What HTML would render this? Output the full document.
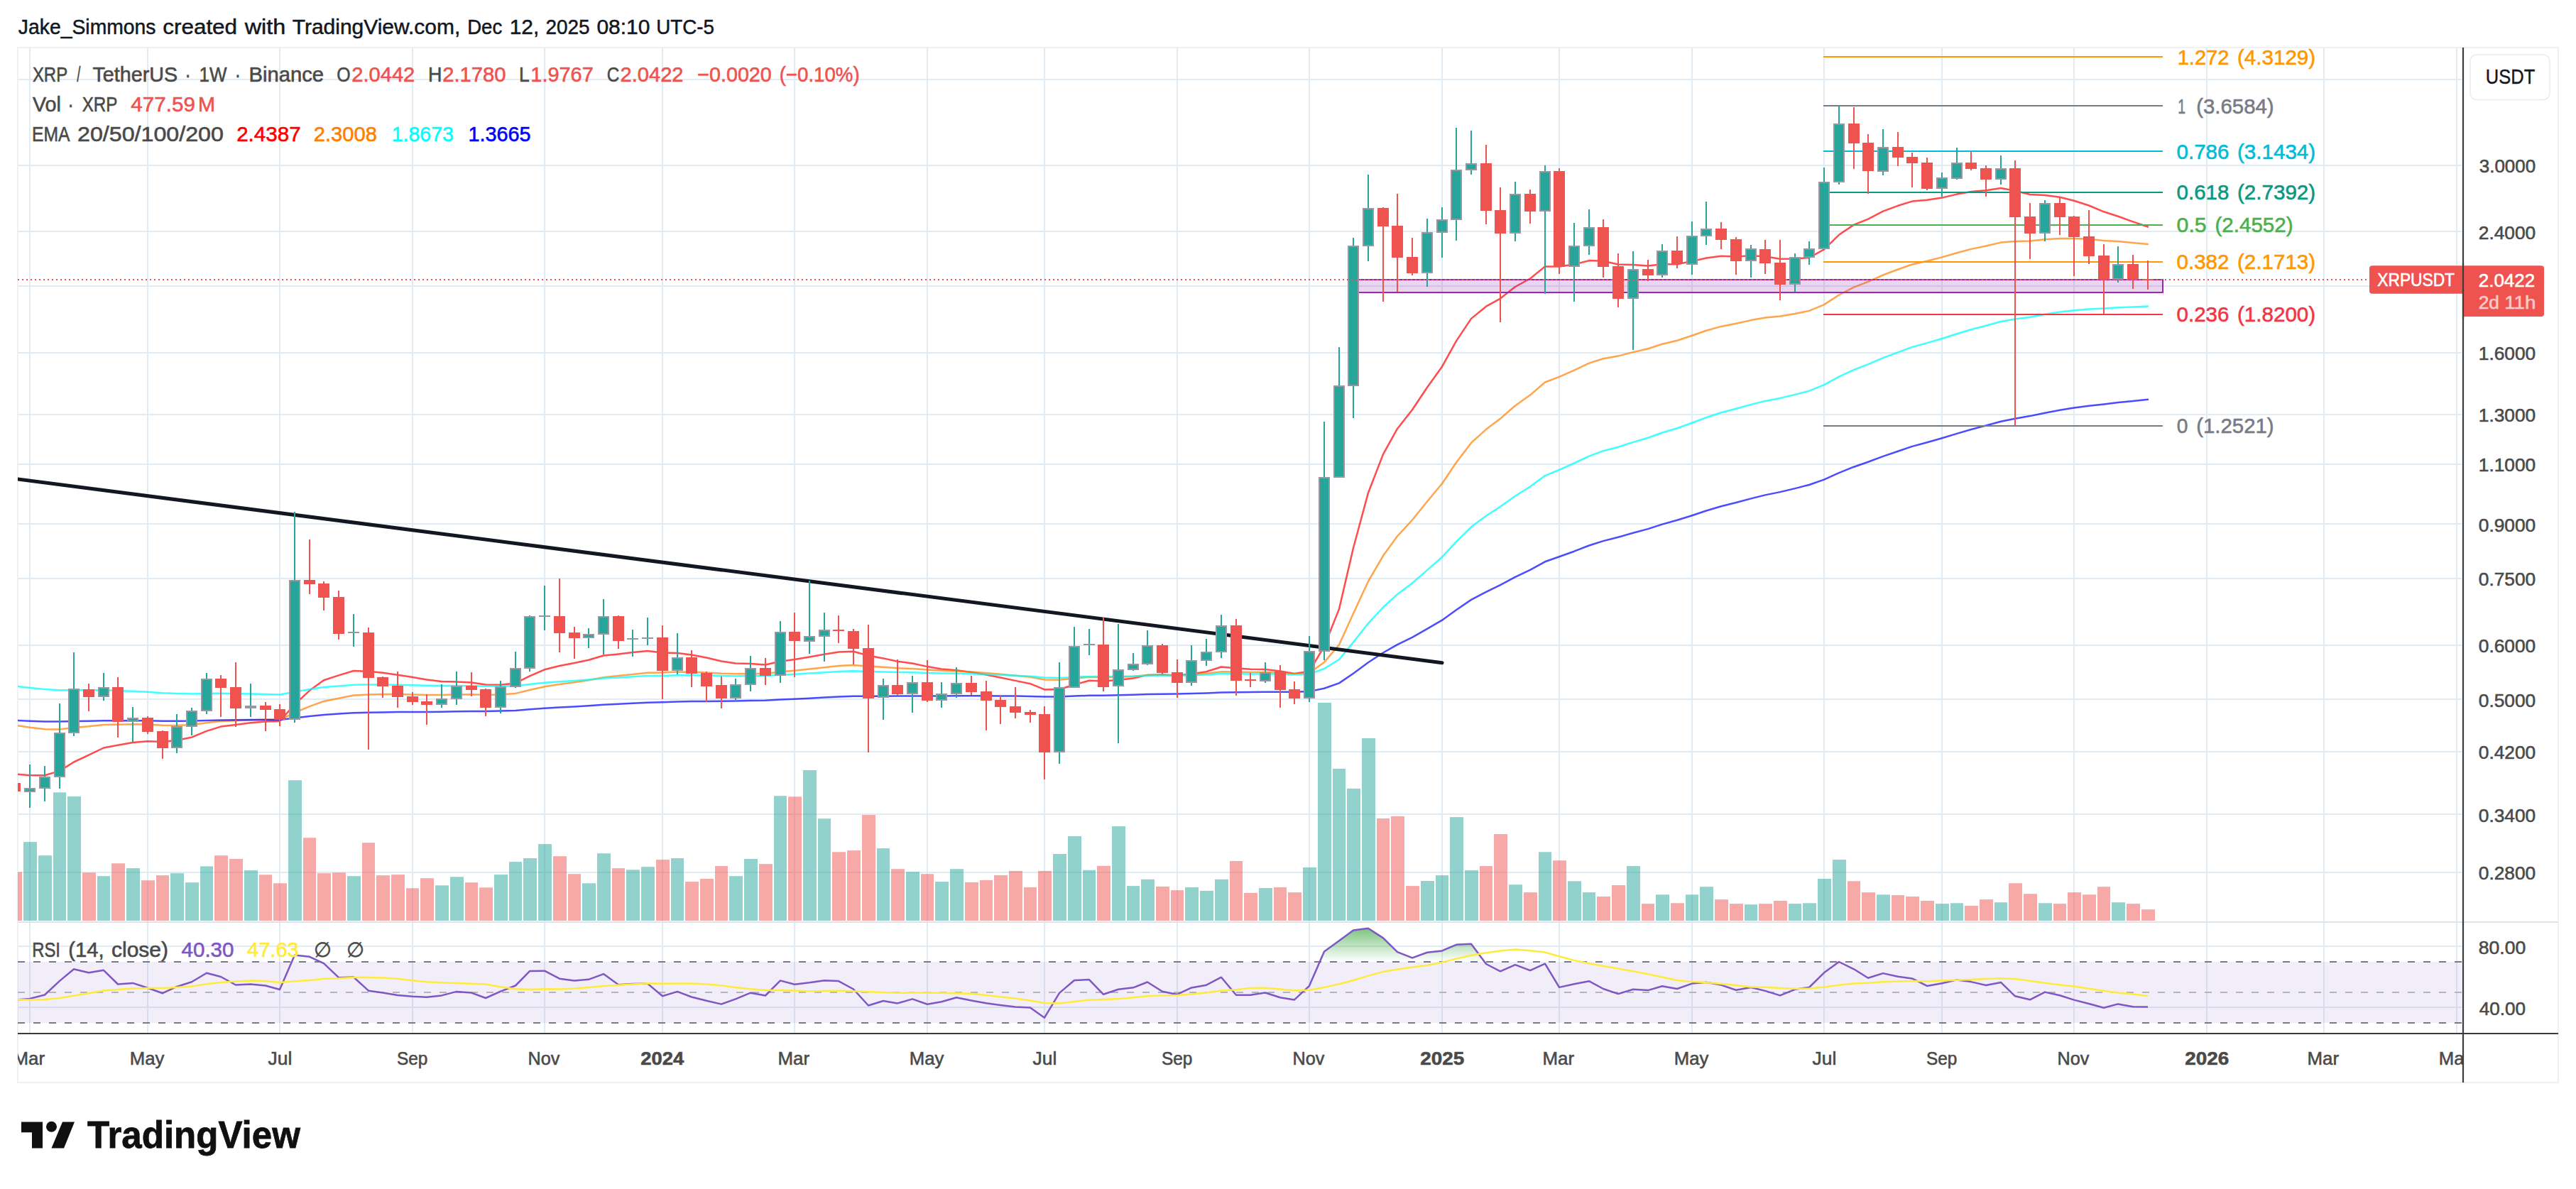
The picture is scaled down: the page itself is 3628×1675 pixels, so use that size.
<!DOCTYPE html>
<html><head><meta charset="utf-8"><title>XRPUSDT chart</title>
<style>html,body{margin:0;padding:0;background:#fff}body{width:3628px;height:1675px;overflow:hidden;font-family:"Liberation Sans",sans-serif}svg{display:block}</style></head>
<body>
<svg width="3628" height="1675" viewBox="0 0 3628 1675" font-family="Liberation Sans, sans-serif">
<rect width="3628" height="1675" fill="#fff"/>
<defs><clipPath id="cp"><rect x="25" y="67" width="3443" height="1389"/></clipPath>
<clipPath id="cpt"><rect x="25" y="1456" width="3443" height="80"/></clipPath>
<linearGradient id="ob" gradientUnits="userSpaceOnUse" x1="0" y1="1290.3" x2="0" y2="1354.8"><stop offset="0" stop-color="#4caf50" stop-opacity="1"/><stop offset="1" stop-color="#4caf50" stop-opacity="0"/></linearGradient></defs>
<rect x="25" y="67" width="3578" height="1458" fill="none" stroke="#f0f1f2" stroke-width="2"/>
<path d="M42 67 V1456 M208 67 V1456 M394 67 V1456 M581 67 V1456 M767 67 V1456 M933 67 V1456 M1119 67 V1456 M1306 67 V1456 M1471 67 V1456 M1658 67 V1456 M1844 67 V1456 M2031 67 V1456 M2196 67 V1456 M2383 67 V1456 M2569 67 V1456 M2735 67 V1456 M2921 67 V1456 M3108 67 V1456 M3273 67 V1456 M3460 67 V1456 M25 112 H3467 M25 233 H3467 M25 326 H3467 M25 403 H3467 M25 497 H3467 M25 584 H3467 M25 654 H3467 M25 738 H3467 M25 815 H3467 M25 909 H3467 M25 985 H3467 M25 1059 H3467 M25 1147 H3467 M25 1229 H3467 M25 1333 H3467 M25 1419 H3467" stroke="#e0ebf3" stroke-width="2" fill="none"/>
<path d="M25 1299 H3603" stroke="#e0e3eb" stroke-width="2"/>
<g clip-path="url(#cp)">
<rect x="25" y="1355" width="3442" height="86" fill="#7e57c2" fill-opacity="0.1"/>
<path d="M25 1355 H3467" stroke="#787b86" stroke-width="2" stroke-dasharray="10 12"/>
<path d="M25 1398 H3467" stroke="#b2b5be" stroke-width="2" stroke-dasharray="10 12"/>
<path d="M25 1441 H3467" stroke="#787b86" stroke-width="2" stroke-dasharray="10 12"/>
<rect x="12" y="1228.5" width="19" height="68.5" fill="#ef5350" fill-opacity="0.5"/>
<rect x="33" y="1186.1" width="19" height="110.9" fill="#26a69a" fill-opacity="0.5"/>
<rect x="54" y="1205.2" width="19" height="91.8" fill="#26a69a" fill-opacity="0.5"/>
<rect x="75" y="1116.3" width="18" height="180.7" fill="#26a69a" fill-opacity="0.5"/>
<rect x="95" y="1122" width="19" height="175" fill="#26a69a" fill-opacity="0.5"/>
<rect x="116" y="1229.3" width="19" height="67.7" fill="#ef5350" fill-opacity="0.5"/>
<rect x="137" y="1234.2" width="18" height="62.8" fill="#26a69a" fill-opacity="0.5"/>
<rect x="157" y="1216.3" width="19" height="80.7" fill="#ef5350" fill-opacity="0.5"/>
<rect x="178" y="1223.1" width="19" height="73.9" fill="#26a69a" fill-opacity="0.5"/>
<rect x="199" y="1240.2" width="19" height="56.8" fill="#ef5350" fill-opacity="0.5"/>
<rect x="220" y="1233.1" width="18" height="63.9" fill="#ef5350" fill-opacity="0.5"/>
<rect x="240" y="1230.2" width="19" height="66.8" fill="#26a69a" fill-opacity="0.5"/>
<rect x="261" y="1243.2" width="19" height="53.8" fill="#26a69a" fill-opacity="0.5"/>
<rect x="282" y="1220.4" width="18" height="76.6" fill="#26a69a" fill-opacity="0.5"/>
<rect x="302" y="1205.2" width="19" height="91.8" fill="#ef5350" fill-opacity="0.5"/>
<rect x="323" y="1210" width="19" height="87" fill="#ef5350" fill-opacity="0.5"/>
<rect x="344" y="1226.1" width="19" height="70.9" fill="#26a69a" fill-opacity="0.5"/>
<rect x="365" y="1232.3" width="18" height="64.7" fill="#ef5350" fill-opacity="0.5"/>
<rect x="385" y="1244.3" width="19" height="52.7" fill="#ef5350" fill-opacity="0.5"/>
<rect x="406" y="1099.2" width="19" height="197.8" fill="#26a69a" fill-opacity="0.5"/>
<rect x="427" y="1180.2" width="18" height="116.8" fill="#ef5350" fill-opacity="0.5"/>
<rect x="447" y="1230.2" width="19" height="66.8" fill="#ef5350" fill-opacity="0.5"/>
<rect x="468" y="1229.3" width="19" height="67.7" fill="#ef5350" fill-opacity="0.5"/>
<rect x="489" y="1234.2" width="19" height="62.8" fill="#26a69a" fill-opacity="0.5"/>
<rect x="510" y="1187.2" width="18" height="109.8" fill="#ef5350" fill-opacity="0.5"/>
<rect x="530" y="1233.1" width="19" height="63.9" fill="#ef5350" fill-opacity="0.5"/>
<rect x="551" y="1232.1" width="19" height="64.9" fill="#ef5350" fill-opacity="0.5"/>
<rect x="572" y="1251.3" width="18" height="45.7" fill="#ef5350" fill-opacity="0.5"/>
<rect x="592" y="1237.2" width="19" height="59.8" fill="#ef5350" fill-opacity="0.5"/>
<rect x="613" y="1247.3" width="19" height="49.7" fill="#26a69a" fill-opacity="0.5"/>
<rect x="634" y="1235.3" width="19" height="61.7" fill="#26a69a" fill-opacity="0.5"/>
<rect x="655" y="1243.2" width="18" height="53.8" fill="#ef5350" fill-opacity="0.5"/>
<rect x="675" y="1250.3" width="19" height="46.7" fill="#ef5350" fill-opacity="0.5"/>
<rect x="696" y="1232.1" width="19" height="64.9" fill="#26a69a" fill-opacity="0.5"/>
<rect x="717" y="1214.1" width="18" height="82.9" fill="#26a69a" fill-opacity="0.5"/>
<rect x="737" y="1209" width="19" height="88" fill="#26a69a" fill-opacity="0.5"/>
<rect x="758" y="1189.1" width="19" height="107.9" fill="#26a69a" fill-opacity="0.5"/>
<rect x="779" y="1206.2" width="19" height="90.8" fill="#ef5350" fill-opacity="0.5"/>
<rect x="800" y="1231.2" width="18" height="65.8" fill="#ef5350" fill-opacity="0.5"/>
<rect x="820" y="1244.3" width="19" height="52.7" fill="#26a69a" fill-opacity="0.5"/>
<rect x="841" y="1202.2" width="19" height="94.8" fill="#26a69a" fill-opacity="0.5"/>
<rect x="862" y="1223.1" width="18" height="73.9" fill="#ef5350" fill-opacity="0.5"/>
<rect x="882" y="1225.3" width="19" height="71.7" fill="#26a69a" fill-opacity="0.5"/>
<rect x="903" y="1221.2" width="19" height="75.8" fill="#26a69a" fill-opacity="0.5"/>
<rect x="924" y="1211.1" width="19" height="85.9" fill="#ef5350" fill-opacity="0.5"/>
<rect x="945" y="1209" width="18" height="88" fill="#26a69a" fill-opacity="0.5"/>
<rect x="965" y="1242.1" width="19" height="54.9" fill="#ef5350" fill-opacity="0.5"/>
<rect x="986" y="1238" width="19" height="59" fill="#ef5350" fill-opacity="0.5"/>
<rect x="1007" y="1220.1" width="18" height="76.9" fill="#ef5350" fill-opacity="0.5"/>
<rect x="1027" y="1234.2" width="19" height="62.8" fill="#26a69a" fill-opacity="0.5"/>
<rect x="1048" y="1210" width="19" height="87" fill="#26a69a" fill-opacity="0.5"/>
<rect x="1069" y="1217.1" width="19" height="79.9" fill="#ef5350" fill-opacity="0.5"/>
<rect x="1090" y="1121.2" width="18" height="175.8" fill="#26a69a" fill-opacity="0.5"/>
<rect x="1110" y="1122.3" width="19" height="174.7" fill="#ef5350" fill-opacity="0.5"/>
<rect x="1131" y="1085" width="19" height="212" fill="#26a69a" fill-opacity="0.5"/>
<rect x="1152" y="1153.2" width="18" height="143.8" fill="#26a69a" fill-opacity="0.5"/>
<rect x="1172" y="1200.3" width="19" height="96.7" fill="#ef5350" fill-opacity="0.5"/>
<rect x="1193" y="1198.1" width="19" height="98.9" fill="#ef5350" fill-opacity="0.5"/>
<rect x="1214" y="1148.1" width="19" height="148.9" fill="#ef5350" fill-opacity="0.5"/>
<rect x="1235" y="1195.1" width="18" height="101.9" fill="#26a69a" fill-opacity="0.5"/>
<rect x="1255" y="1224.2" width="19" height="72.8" fill="#ef5350" fill-opacity="0.5"/>
<rect x="1276" y="1228.2" width="19" height="68.8" fill="#26a69a" fill-opacity="0.5"/>
<rect x="1297" y="1231.2" width="18" height="65.8" fill="#ef5350" fill-opacity="0.5"/>
<rect x="1317" y="1242.1" width="19" height="54.9" fill="#26a69a" fill-opacity="0.5"/>
<rect x="1338" y="1224.2" width="19" height="72.8" fill="#26a69a" fill-opacity="0.5"/>
<rect x="1359" y="1242.9" width="19" height="54.1" fill="#ef5350" fill-opacity="0.5"/>
<rect x="1380" y="1239.9" width="18" height="57.1" fill="#ef5350" fill-opacity="0.5"/>
<rect x="1400" y="1232.9" width="19" height="64.1" fill="#ef5350" fill-opacity="0.5"/>
<rect x="1421" y="1226.9" width="19" height="70.1" fill="#ef5350" fill-opacity="0.5"/>
<rect x="1442" y="1250" width="18" height="47" fill="#ef5350" fill-opacity="0.5"/>
<rect x="1462" y="1226.9" width="19" height="70.1" fill="#ef5350" fill-opacity="0.5"/>
<rect x="1483" y="1203" width="19" height="94" fill="#26a69a" fill-opacity="0.5"/>
<rect x="1504" y="1178" width="19" height="119" fill="#26a69a" fill-opacity="0.5"/>
<rect x="1525" y="1225.8" width="18" height="71.2" fill="#26a69a" fill-opacity="0.5"/>
<rect x="1545" y="1219.8" width="19" height="77.2" fill="#ef5350" fill-opacity="0.5"/>
<rect x="1566" y="1164.1" width="19" height="132.9" fill="#26a69a" fill-opacity="0.5"/>
<rect x="1587" y="1248.1" width="18" height="48.9" fill="#26a69a" fill-opacity="0.5"/>
<rect x="1607" y="1238.8" width="19" height="58.2" fill="#26a69a" fill-opacity="0.5"/>
<rect x="1628" y="1248.9" width="19" height="48.1" fill="#ef5350" fill-opacity="0.5"/>
<rect x="1649" y="1254.1" width="18" height="42.9" fill="#ef5350" fill-opacity="0.5"/>
<rect x="1669" y="1250" width="19" height="47" fill="#26a69a" fill-opacity="0.5"/>
<rect x="1690" y="1254.9" width="19" height="42.1" fill="#26a69a" fill-opacity="0.5"/>
<rect x="1711" y="1238.8" width="19" height="58.2" fill="#26a69a" fill-opacity="0.5"/>
<rect x="1732" y="1213" width="18" height="84" fill="#ef5350" fill-opacity="0.5"/>
<rect x="1752" y="1257.9" width="19" height="39.1" fill="#ef5350" fill-opacity="0.5"/>
<rect x="1773" y="1251.1" width="19" height="45.9" fill="#26a69a" fill-opacity="0.5"/>
<rect x="1794" y="1250" width="18" height="47" fill="#ef5350" fill-opacity="0.5"/>
<rect x="1814" y="1257.1" width="19" height="39.9" fill="#ef5350" fill-opacity="0.5"/>
<rect x="1835" y="1222" width="19" height="75" fill="#26a69a" fill-opacity="0.5"/>
<rect x="1856" y="989.9" width="19" height="307.1" fill="#26a69a" fill-opacity="0.5"/>
<rect x="1877" y="1082.9" width="18" height="214.1" fill="#26a69a" fill-opacity="0.5"/>
<rect x="1897" y="1110.9" width="19" height="186.1" fill="#26a69a" fill-opacity="0.5"/>
<rect x="1918" y="1039.9" width="19" height="257.1" fill="#26a69a" fill-opacity="0.5"/>
<rect x="1939" y="1153" width="18" height="144" fill="#ef5350" fill-opacity="0.5"/>
<rect x="1959" y="1150" width="19" height="147" fill="#ef5350" fill-opacity="0.5"/>
<rect x="1980" y="1248.1" width="19" height="48.9" fill="#ef5350" fill-opacity="0.5"/>
<rect x="2001" y="1241" width="19" height="56" fill="#26a69a" fill-opacity="0.5"/>
<rect x="2022" y="1233.1" width="18" height="63.9" fill="#26a69a" fill-opacity="0.5"/>
<rect x="2042" y="1151.1" width="19" height="145.9" fill="#26a69a" fill-opacity="0.5"/>
<rect x="2063" y="1226.1" width="19" height="70.9" fill="#26a69a" fill-opacity="0.5"/>
<rect x="2084" y="1220.1" width="18" height="76.9" fill="#ef5350" fill-opacity="0.5"/>
<rect x="2104" y="1175" width="19" height="122" fill="#ef5350" fill-opacity="0.5"/>
<rect x="2125" y="1246.2" width="19" height="50.8" fill="#26a69a" fill-opacity="0.5"/>
<rect x="2146" y="1257.1" width="19" height="39.9" fill="#ef5350" fill-opacity="0.5"/>
<rect x="2167" y="1200.3" width="18" height="96.7" fill="#26a69a" fill-opacity="0.5"/>
<rect x="2187" y="1212.2" width="19" height="84.8" fill="#ef5350" fill-opacity="0.5"/>
<rect x="2208" y="1241.3" width="19" height="55.7" fill="#26a69a" fill-opacity="0.5"/>
<rect x="2229" y="1257.1" width="18" height="39.9" fill="#26a69a" fill-opacity="0.5"/>
<rect x="2249" y="1263" width="19" height="34" fill="#ef5350" fill-opacity="0.5"/>
<rect x="2270" y="1247" width="19" height="50" fill="#ef5350" fill-opacity="0.5"/>
<rect x="2291" y="1220.1" width="19" height="76.9" fill="#26a69a" fill-opacity="0.5"/>
<rect x="2312" y="1273.1" width="18" height="23.9" fill="#ef5350" fill-opacity="0.5"/>
<rect x="2332" y="1260.3" width="19" height="36.7" fill="#26a69a" fill-opacity="0.5"/>
<rect x="2353" y="1272.3" width="19" height="24.7" fill="#ef5350" fill-opacity="0.5"/>
<rect x="2374" y="1260.3" width="18" height="36.7" fill="#26a69a" fill-opacity="0.5"/>
<rect x="2394" y="1249.2" width="19" height="47.8" fill="#26a69a" fill-opacity="0.5"/>
<rect x="2415" y="1267.1" width="19" height="29.9" fill="#ef5350" fill-opacity="0.5"/>
<rect x="2436" y="1273.1" width="19" height="23.9" fill="#ef5350" fill-opacity="0.5"/>
<rect x="2457" y="1274.2" width="18" height="22.8" fill="#26a69a" fill-opacity="0.5"/>
<rect x="2477" y="1273.1" width="19" height="23.9" fill="#ef5350" fill-opacity="0.5"/>
<rect x="2498" y="1269" width="19" height="28" fill="#ef5350" fill-opacity="0.5"/>
<rect x="2519" y="1273.1" width="18" height="23.9" fill="#26a69a" fill-opacity="0.5"/>
<rect x="2539" y="1272.3" width="19" height="24.7" fill="#26a69a" fill-opacity="0.5"/>
<rect x="2560" y="1238" width="19" height="59" fill="#26a69a" fill-opacity="0.5"/>
<rect x="2581" y="1211.1" width="19" height="85.9" fill="#26a69a" fill-opacity="0.5"/>
<rect x="2602" y="1241.3" width="18" height="55.7" fill="#ef5350" fill-opacity="0.5"/>
<rect x="2622" y="1257.1" width="19" height="39.9" fill="#ef5350" fill-opacity="0.5"/>
<rect x="2643" y="1260.3" width="19" height="36.7" fill="#26a69a" fill-opacity="0.5"/>
<rect x="2664" y="1261.1" width="18" height="35.9" fill="#ef5350" fill-opacity="0.5"/>
<rect x="2684" y="1263" width="19" height="34" fill="#ef5350" fill-opacity="0.5"/>
<rect x="2705" y="1269" width="19" height="28" fill="#ef5350" fill-opacity="0.5"/>
<rect x="2726" y="1273.1" width="19" height="23.9" fill="#26a69a" fill-opacity="0.5"/>
<rect x="2747" y="1272.3" width="18" height="24.7" fill="#26a69a" fill-opacity="0.5"/>
<rect x="2767" y="1276.1" width="19" height="20.9" fill="#ef5350" fill-opacity="0.5"/>
<rect x="2788" y="1267.1" width="19" height="29.9" fill="#ef5350" fill-opacity="0.5"/>
<rect x="2809" y="1271.2" width="18" height="25.8" fill="#26a69a" fill-opacity="0.5"/>
<rect x="2829" y="1244.3" width="19" height="52.7" fill="#ef5350" fill-opacity="0.5"/>
<rect x="2850" y="1259.2" width="19" height="37.8" fill="#ef5350" fill-opacity="0.5"/>
<rect x="2871" y="1272.3" width="19" height="24.7" fill="#26a69a" fill-opacity="0.5"/>
<rect x="2892" y="1273.1" width="18" height="23.9" fill="#ef5350" fill-opacity="0.5"/>
<rect x="2912" y="1257.1" width="19" height="39.9" fill="#ef5350" fill-opacity="0.5"/>
<rect x="2933" y="1260.3" width="19" height="36.7" fill="#ef5350" fill-opacity="0.5"/>
<rect x="2954" y="1249.2" width="18" height="47.8" fill="#ef5350" fill-opacity="0.5"/>
<rect x="2974" y="1271.2" width="19" height="25.8" fill="#26a69a" fill-opacity="0.5"/>
<rect x="2995" y="1273.1" width="19" height="23.9" fill="#ef5350" fill-opacity="0.5"/>
<rect x="3016" y="1281.2" width="19" height="15.8" fill="#ef5350" fill-opacity="0.5"/>
<polyline points="21,1090.4 42,1092.2 63,1092.3 84,1086.1 104,1073.5 125,1063.7 146,1053.5 166,1049.8 187,1045.9 208,1044.3 229,1045.1 249,1042.9 270,1038.6 291,1029.9 311,1023.6 332,1021 353,1018.3 374,1016.4 394,1016 415,992.4 436,972.8 456,958.3 477,951.4 498,945 519,945.8 539,947.7 560,950.7 581,954.1 601,957.5 622,959.9 643,960.5 664,961.4 684,964.6 705,964.8 726,962.4 746,952.3 767,943.3 788,938 809,934 829,929.8 850,923.5 871,921.4 891,919.1 912,916.9 933,919.4 954,920 974,922.6 995,926.5 1016,931.5 1036,934.5 1057,935 1078,936.5 1099,931.8 1119,928.9 1140,925.6 1161,921.7 1181,918.4 1202,917.8 1223,923.6 1244,927.4 1264,931.8 1285,934.5 1306,939.1 1326,942.6 1347,944.3 1368,947 1389,950.6 1409,954.6 1430,958.9 1451,963.2 1471,971.4 1492,971 1513,964.7 1534,958.8 1554,959.6 1575,957.9 1596,955.6 1616,950.9 1637,950.5 1658,951.5 1678,949.4 1699,946.2 1720,939.5 1741,941.2 1761,942.7 1782,943.1 1803,945.6 1823,949.1 1844,945.8 1865,910.5 1886,857.9 1906,771.9 1927,694.2 1948,639.9 1968,603.9 1989,577.2 2010,545.7 2031,516.4 2051,480.4 2072,448.9 2093,431.7 2113,420.6 2134,404 2155,392.5 2176,375.4 2196,375.4 2217,372.5 2238,367.1 2258,367.8 2279,372.5 2300,373.1 2321,374.4 2341,372.3 2362,372.2 2383,368.1 2403,363.5 2424,360.8 2445,361.4 2466,360.3 2486,361.2 2507,364.7 2528,364.4 2548,363 2569,351.4 2590,330.8 2611,316.6 2631,308.6 2652,297.7 2673,289.8 2693,283.6 2714,281.8 2735,278.6 2756,273.6 2776,270 2797,268.2 2818,265.1 2838,268.7 2859,274 2880,275.1 2901,277.8 2921,282.7 2942,289.5 2963,298.3 2983,304.8 3004,312.4 3025,319.5" fill="none" stroke="#ff0000" stroke-opacity="0.7" stroke-width="2.5" stroke-linejoin="round" stroke-linecap="round"/>
<polyline points="21,1021.7 42,1024.8 63,1027.3 84,1027.5 104,1025 125,1023.2 146,1020.9 166,1020.7 187,1020.3 208,1020.6 229,1021.8 249,1021.9 270,1021 291,1018.2 311,1016.1 332,1015.3 353,1014.5 374,1013.8 394,1013.8 415,1004 436,995.2 456,987.9 477,983.7 498,979.5 519,978.5 539,978 560,978.1 581,978.4 601,979 622,979.1 643,978.6 664,978.3 684,978.9 705,978.4 726,976.9 746,972 767,967.3 788,964 809,961.2 829,958.3 850,954.3 871,952.1 891,949.9 912,947.7 933,947.5 954,946.6 974,946.7 995,947.4 1016,948.7 1036,949.3 1057,948.9 1078,949 1099,946.5 1119,944.7 1140,942.6 1161,940.3 1181,938.1 1202,937.1 1223,938.8 1244,939.8 1264,941.2 1285,941.9 1306,943.6 1326,944.8 1347,945.5 1368,946.5 1389,948 1409,949.7 1430,951.7 1451,953.7 1471,957.4 1492,957.8 1513,955.7 1534,953.7 1554,954.2 1575,953.7 1596,952.9 1616,951.1 1637,951 1658,951.3 1678,950.5 1699,949.1 1720,946.2 1741,946.6 1761,947.1 1782,947.1 1803,948 1823,949.3 1844,947.9 1865,932.9 1886,908.3 1906,864.3 1927,819 1948,782.8 1968,755.3 1989,732.5 2010,706.5 2031,681.2 2051,651.5 2072,623.9 2093,604.8 2113,589.7 2134,571.5 2155,556.6 2176,538.5 2196,530.8 2217,521.7 2238,511.6 2258,505.3 2279,501.6 2300,496.1 2321,491.2 2341,484.8 2362,479.7 2383,472.8 2403,465.7 2424,459.9 2445,455.8 2466,451.1 2486,447.6 2507,445.6 2528,442 2548,437.9 2569,429.1 2590,415.5 2611,404.6 2631,396.8 2652,387.5 2673,379.5 2693,372.5 2714,367.7 2735,362.4 2756,356.2 2776,350.9 2797,346.5 2818,341.6 2838,340.1 2859,339.6 2880,337.3 2901,336 2921,335.9 2942,336.8 2963,338.9 2983,340.1 3004,342.1 3025,344" fill="none" stroke="#ff8000" stroke-opacity="0.7" stroke-width="2.5" stroke-linejoin="round" stroke-linecap="round"/>
<polyline points="21,966.5 42,968.9 63,971 84,972.2 104,972.1 125,972.3 146,972.2 166,973 187,973.7 208,974.7 229,976.2 249,977 270,977.5 291,977 311,976.8 332,977.2 353,977.5 374,977.9 394,978.6 415,974.7 436,971.1 456,968.1 477,966.4 498,964.7 519,964.5 539,964.5 560,964.8 581,965.3 601,965.8 622,966.1 643,966.1 664,966.2 684,966.8 705,966.7 726,966.2 746,964 767,961.8 788,960.3 809,959 829,957.5 850,955.5 871,954.4 891,953.2 912,952 933,951.9 954,951.3 974,951.3 995,951.5 1016,952.1 1036,952.4 1057,952.1 1078,952.1 1099,950.8 1119,949.7 1140,948.6 1161,947.3 1181,946 1202,945.3 1223,946 1244,946.4 1264,947 1285,947.3 1306,948 1326,948.5 1347,948.8 1368,949.3 1389,950 1409,950.8 1430,951.8 1451,952.8 1471,954.6 1492,954.9 1513,953.9 1534,952.9 1554,953.2 1575,953 1596,952.6 1616,951.7 1637,951.6 1658,951.8 1678,951.3 1699,950.6 1720,949.1 1741,949.3 1761,949.4 1782,949.4 1803,949.8 1823,950.4 1844,949.7 1865,942 1886,929 1906,904.7 1927,878.1 1948,855.5 1968,837.2 1989,821.4 2010,803.1 2031,784.8 2051,763.1 2072,742.3 2093,726.8 2113,713.8 2134,698.7 2155,685.5 2176,670.1 2196,661.8 2217,652.5 2238,642.6 2258,635.2 2279,629.7 2300,622.9 2321,616.7 2341,609.5 2362,603.2 2383,595.7 2403,588.1 2424,581.3 2445,575.8 2466,569.9 2486,564.9 2507,560.9 2528,555.9 2548,550.6 2569,542.2 2590,530.7 2611,520.9 2631,513.1 2652,504.2 2673,496.3 2693,488.9 2714,483.1 2735,477 2756,470.3 2776,464.2 2797,458.7 2818,453 2838,449.5 2859,446.7 2880,442.8 2901,439.6 2921,437.2 2942,435.5 2963,434.6 2983,433.3 3004,432.4 3025,431.6" fill="none" stroke="#00ffff" stroke-opacity="0.75" stroke-width="2.5" stroke-linejoin="round" stroke-linecap="round"/>
<polyline points="21,1014.9 42,1015.7 63,1016.4 84,1016.6 104,1016.1 125,1015.7 146,1015.2 166,1015.2 187,1015.2 208,1015.3 229,1015.7 249,1015.7 270,1015.6 291,1014.9 311,1014.4 332,1014.3 353,1014.1 374,1013.9 394,1013.9 415,1011.4 436,1009 456,1007 477,1005.6 498,1004.3 519,1003.8 539,1003.4 560,1003.1 581,1003 601,1002.9 622,1002.7 643,1002.3 664,1001.9 684,1001.9 705,1001.5 726,1000.9 746,999.3 767,997.7 788,996.5 809,995.4 829,994.3 850,992.8 871,991.8 891,990.7 912,989.7 933,989.2 954,988.5 974,988.1 995,987.9 1016,987.8 1036,987.6 1057,987.1 1078,986.7 1099,985.6 1119,984.7 1140,983.7 1161,982.6 1181,981.6 1202,980.8 1223,980.8 1244,980.7 1264,980.6 1285,980.4 1306,980.5 1326,980.5 1347,980.3 1368,980.2 1389,980.3 1409,980.4 1430,980.6 1451,980.9 1471,981.6 1492,981.4 1513,980.6 1534,979.8 1554,979.7 1575,979.3 1596,978.8 1616,978.1 1637,977.8 1658,977.6 1678,977.1 1699,976.4 1720,975.4 1741,975.2 1761,975 1782,974.7 1803,974.7 1823,974.8 1844,974.1 1865,969.7 1886,962.4 1906,948.7 1927,933.2 1948,919.5 1968,908.1 1989,897.8 2010,885.9 2031,873.7 2051,859.2 2072,844.9 2093,833.8 2113,824.1 2134,812.9 2155,802.9 2176,791.3 2196,784.3 2217,776.7 2238,768.5 2258,762.1 2279,756.8 2300,750.8 2321,745.1 2341,738.6 2362,732.8 2383,726.2 2403,719.5 2424,713.3 2445,708 2466,702.4 2486,697.4 2507,693.1 2528,688.1 2548,683 2569,675.6 2590,666.1 2611,657.7 2631,650.7 2652,642.9 2673,635.7 2693,628.9 2714,623.2 2735,617.3 2756,610.9 2776,605 2797,599.5 2818,593.8 2838,589.7 2859,586.1 2880,581.7 2901,577.8 2921,574.5 2942,571.8 2963,569.6 2983,567.1 3004,564.9 3025,562.8" fill="none" stroke="#0000ff" stroke-opacity="0.7" stroke-width="2.5" stroke-linejoin="round" stroke-linecap="round"/>
<rect x="1906" y="394" width="1140" height="18" fill="#9c27b0" fill-opacity="0.2" stroke="#9c27b0" stroke-width="2"/>
<path d="M2568 80 H3046" stroke="#ff9800" stroke-width="2"/>
<path d="M2568 149 H3046" stroke="#787b86" stroke-width="2"/>
<path d="M2568 213 H3046" stroke="#00bcd4" stroke-width="2"/>
<path d="M2568 271 H3046" stroke="#089981" stroke-width="2"/>
<path d="M2568 317 H3046" stroke="#4caf50" stroke-width="2"/>
<path d="M2568 369 H3046" stroke="#ff9800" stroke-width="2"/>
<path d="M2568 443 H3046" stroke="#f23645" stroke-width="2"/>
<path d="M2568 600 H3046" stroke="#787b86" stroke-width="2"/>
<path d="M25 675.1 L2031 933.7" stroke="#131722" stroke-width="5" stroke-linecap="round"/>
<rect x="20" y="1103" width="2" height="12" fill="#ef5350"/>
<rect x="13" y="1103" width="16" height="12" fill="#ef5350"/>
<rect x="41" y="1077" width="2" height="61" fill="#26a69a"/>
<rect x="35" y="1111" width="14" height="4" fill="#26a69a" stroke="#9598a1" stroke-width="2"/>
<rect x="62" y="1079" width="2" height="50" fill="#26a69a"/>
<rect x="56" y="1095" width="14" height="15" fill="#26a69a" stroke="#9598a1" stroke-width="2"/>
<rect x="83" y="991" width="2" height="120" fill="#26a69a"/>
<rect x="77" y="1033" width="14" height="61" fill="#26a69a" stroke="#9598a1" stroke-width="2"/>
<rect x="103" y="919" width="2" height="118" fill="#26a69a"/>
<rect x="97" y="971" width="14" height="61" fill="#26a69a" stroke="#9598a1" stroke-width="2"/>
<rect x="124" y="963" width="2" height="39" fill="#ef5350"/>
<rect x="117" y="971" width="16" height="11" fill="#ef5350"/>
<rect x="145" y="948" width="2" height="39" fill="#26a69a"/>
<rect x="139" y="969" width="14" height="12" fill="#26a69a" stroke="#9598a1" stroke-width="2"/>
<rect x="165" y="954" width="2" height="85" fill="#ef5350"/>
<rect x="158" y="968" width="16" height="49" fill="#ef5350"/>
<rect x="186" y="996" width="2" height="50" fill="#26a69a"/>
<rect x="180" y="1012" width="14" height="4" fill="#26a69a" stroke="#9598a1" stroke-width="2"/>
<rect x="207" y="1009" width="2" height="25" fill="#ef5350"/>
<rect x="200" y="1011" width="16" height="20" fill="#ef5350"/>
<rect x="228" y="1029" width="2" height="40" fill="#ef5350"/>
<rect x="221" y="1030" width="16" height="24" fill="#ef5350"/>
<rect x="248" y="1006" width="2" height="55" fill="#26a69a"/>
<rect x="242" y="1024" width="14" height="29" fill="#26a69a" stroke="#9598a1" stroke-width="2"/>
<rect x="269" y="997" width="2" height="39" fill="#26a69a"/>
<rect x="263" y="1002" width="14" height="21" fill="#26a69a" stroke="#9598a1" stroke-width="2"/>
<rect x="290" y="948" width="2" height="58" fill="#26a69a"/>
<rect x="284" y="957" width="14" height="44" fill="#26a69a" stroke="#9598a1" stroke-width="2"/>
<rect x="310" y="951" width="2" height="59" fill="#ef5350"/>
<rect x="303" y="956" width="16" height="13" fill="#ef5350"/>
<rect x="331" y="933" width="2" height="91" fill="#ef5350"/>
<rect x="324" y="968" width="16" height="30" fill="#ef5350"/>
<rect x="352" y="963" width="2" height="47" fill="#26a69a"/>
<rect x="346" y="995" width="14" height="2" fill="#26a69a" stroke="#9598a1" stroke-width="2"/>
<rect x="373" y="989" width="2" height="41" fill="#ef5350"/>
<rect x="366" y="994" width="16" height="6" fill="#ef5350"/>
<rect x="393" y="992" width="2" height="31" fill="#ef5350"/>
<rect x="386" y="999" width="16" height="15" fill="#ef5350"/>
<rect x="414" y="721" width="2" height="297" fill="#26a69a"/>
<rect x="408" y="818" width="14" height="195" fill="#26a69a" stroke="#9598a1" stroke-width="2"/>
<rect x="435" y="760" width="2" height="77" fill="#ef5350"/>
<rect x="428" y="817" width="16" height="6" fill="#ef5350"/>
<rect x="455" y="819" width="2" height="41" fill="#ef5350"/>
<rect x="448" y="822" width="16" height="20" fill="#ef5350"/>
<rect x="476" y="832" width="2" height="69" fill="#ef5350"/>
<rect x="469" y="841" width="16" height="52" fill="#ef5350"/>
<rect x="497" y="865" width="2" height="46" fill="#26a69a"/>
<rect x="490" y="890" width="16" height="2" fill="#9598a1"/>
<rect x="518" y="884" width="2" height="172" fill="#ef5350"/>
<rect x="511" y="891" width="16" height="64" fill="#ef5350"/>
<rect x="538" y="953" width="2" height="30" fill="#ef5350"/>
<rect x="531" y="954" width="16" height="13" fill="#ef5350"/>
<rect x="559" y="946" width="2" height="51" fill="#ef5350"/>
<rect x="552" y="966" width="16" height="16" fill="#ef5350"/>
<rect x="580" y="975" width="2" height="18" fill="#ef5350"/>
<rect x="573" y="981" width="16" height="8" fill="#ef5350"/>
<rect x="600" y="978" width="2" height="43" fill="#ef5350"/>
<rect x="593" y="988" width="16" height="5" fill="#ef5350"/>
<rect x="621" y="964" width="2" height="33" fill="#26a69a"/>
<rect x="615" y="985" width="14" height="7" fill="#26a69a" stroke="#9598a1" stroke-width="2"/>
<rect x="642" y="946" width="2" height="47" fill="#26a69a"/>
<rect x="636" y="967" width="14" height="17" fill="#26a69a" stroke="#9598a1" stroke-width="2"/>
<rect x="663" y="947" width="2" height="34" fill="#ef5350"/>
<rect x="656" y="966" width="16" height="6" fill="#ef5350"/>
<rect x="683" y="970" width="2" height="39" fill="#ef5350"/>
<rect x="676" y="971" width="16" height="26" fill="#ef5350"/>
<rect x="704" y="959" width="2" height="46" fill="#26a69a"/>
<rect x="698" y="968" width="14" height="28" fill="#26a69a" stroke="#9598a1" stroke-width="2"/>
<rect x="725" y="918" width="2" height="51" fill="#26a69a"/>
<rect x="719" y="942" width="14" height="25" fill="#26a69a" stroke="#9598a1" stroke-width="2"/>
<rect x="745" y="867" width="2" height="79" fill="#26a69a"/>
<rect x="739" y="869" width="14" height="72" fill="#26a69a" stroke="#9598a1" stroke-width="2"/>
<rect x="766" y="825" width="2" height="63" fill="#26a69a"/>
<rect x="759" y="867" width="16" height="2" fill="#9598a1"/>
<rect x="787" y="815" width="2" height="104" fill="#ef5350"/>
<rect x="780" y="868" width="16" height="24" fill="#ef5350"/>
<rect x="808" y="883" width="2" height="45" fill="#ef5350"/>
<rect x="801" y="891" width="16" height="8" fill="#ef5350"/>
<rect x="828" y="885" width="2" height="28" fill="#26a69a"/>
<rect x="822" y="894" width="14" height="4" fill="#26a69a" stroke="#9598a1" stroke-width="2"/>
<rect x="849" y="844" width="2" height="78" fill="#26a69a"/>
<rect x="843" y="869" width="14" height="24" fill="#26a69a" stroke="#9598a1" stroke-width="2"/>
<rect x="870" y="867" width="2" height="47" fill="#ef5350"/>
<rect x="863" y="868" width="16" height="35" fill="#ef5350"/>
<rect x="890" y="887" width="2" height="38" fill="#26a69a"/>
<rect x="883" y="899" width="16" height="2" fill="#9598a1"/>
<rect x="911" y="870" width="2" height="39" fill="#26a69a"/>
<rect x="904" y="898" width="16" height="2" fill="#9598a1"/>
<rect x="932" y="881" width="2" height="104" fill="#ef5350"/>
<rect x="925" y="898" width="16" height="47" fill="#ef5350"/>
<rect x="953" y="892" width="2" height="58" fill="#26a69a"/>
<rect x="947" y="927" width="14" height="17" fill="#26a69a" stroke="#9598a1" stroke-width="2"/>
<rect x="973" y="916" width="2" height="52" fill="#ef5350"/>
<rect x="966" y="926" width="16" height="23" fill="#ef5350"/>
<rect x="994" y="946" width="2" height="43" fill="#ef5350"/>
<rect x="987" y="948" width="16" height="19" fill="#ef5350"/>
<rect x="1015" y="953" width="2" height="45" fill="#ef5350"/>
<rect x="1008" y="965" width="16" height="19" fill="#ef5350"/>
<rect x="1035" y="956" width="2" height="32" fill="#26a69a"/>
<rect x="1029" y="965" width="14" height="18" fill="#26a69a" stroke="#9598a1" stroke-width="2"/>
<rect x="1056" y="924" width="2" height="50" fill="#26a69a"/>
<rect x="1050" y="942" width="14" height="22" fill="#26a69a" stroke="#9598a1" stroke-width="2"/>
<rect x="1077" y="927" width="2" height="38" fill="#ef5350"/>
<rect x="1070" y="941" width="16" height="11" fill="#ef5350"/>
<rect x="1098" y="875" width="2" height="87" fill="#26a69a"/>
<rect x="1092" y="891" width="14" height="60" fill="#26a69a" stroke="#9598a1" stroke-width="2"/>
<rect x="1118" y="863" width="2" height="91" fill="#ef5350"/>
<rect x="1111" y="890" width="16" height="13" fill="#ef5350"/>
<rect x="1139" y="818" width="2" height="103" fill="#26a69a"/>
<rect x="1133" y="897" width="14" height="6" fill="#26a69a" stroke="#9598a1" stroke-width="2"/>
<rect x="1160" y="863" width="2" height="69" fill="#26a69a"/>
<rect x="1154" y="888" width="14" height="8" fill="#26a69a" stroke="#9598a1" stroke-width="2"/>
<rect x="1180" y="867" width="2" height="39" fill="#ef5350"/>
<rect x="1173" y="887" width="16" height="2" fill="#ef5350"/>
<rect x="1201" y="886" width="2" height="50" fill="#ef5350"/>
<rect x="1194" y="889" width="16" height="25" fill="#ef5350"/>
<rect x="1222" y="880" width="2" height="180" fill="#ef5350"/>
<rect x="1215" y="913" width="16" height="71" fill="#ef5350"/>
<rect x="1243" y="956" width="2" height="58" fill="#26a69a"/>
<rect x="1237" y="966" width="14" height="16" fill="#26a69a" stroke="#9598a1" stroke-width="2"/>
<rect x="1263" y="929" width="2" height="50" fill="#ef5350"/>
<rect x="1256" y="965" width="16" height="13" fill="#ef5350"/>
<rect x="1284" y="952" width="2" height="52" fill="#26a69a"/>
<rect x="1278" y="962" width="14" height="15" fill="#26a69a" stroke="#9598a1" stroke-width="2"/>
<rect x="1305" y="930" width="2" height="59" fill="#ef5350"/>
<rect x="1298" y="961" width="16" height="26" fill="#ef5350"/>
<rect x="1325" y="961" width="2" height="36" fill="#26a69a"/>
<rect x="1319" y="978" width="14" height="8" fill="#26a69a" stroke="#9598a1" stroke-width="2"/>
<rect x="1346" y="940" width="2" height="43" fill="#26a69a"/>
<rect x="1340" y="963" width="14" height="14" fill="#26a69a" stroke="#9598a1" stroke-width="2"/>
<rect x="1367" y="952" width="2" height="27" fill="#ef5350"/>
<rect x="1360" y="962" width="16" height="13" fill="#ef5350"/>
<rect x="1388" y="959" width="2" height="70" fill="#ef5350"/>
<rect x="1381" y="974" width="16" height="13" fill="#ef5350"/>
<rect x="1408" y="980" width="2" height="40" fill="#ef5350"/>
<rect x="1401" y="986" width="16" height="10" fill="#ef5350"/>
<rect x="1429" y="968" width="2" height="44" fill="#ef5350"/>
<rect x="1422" y="995" width="16" height="9" fill="#ef5350"/>
<rect x="1450" y="1000" width="2" height="18" fill="#ef5350"/>
<rect x="1443" y="1003" width="16" height="4" fill="#ef5350"/>
<rect x="1470" y="995" width="2" height="103" fill="#ef5350"/>
<rect x="1463" y="1006" width="16" height="54" fill="#ef5350"/>
<rect x="1491" y="933" width="2" height="143" fill="#26a69a"/>
<rect x="1485" y="969" width="14" height="90" fill="#26a69a" stroke="#9598a1" stroke-width="2"/>
<rect x="1512" y="883" width="2" height="86" fill="#26a69a"/>
<rect x="1506" y="911" width="14" height="57" fill="#26a69a" stroke="#9598a1" stroke-width="2"/>
<rect x="1533" y="886" width="2" height="37" fill="#26a69a"/>
<rect x="1526" y="907" width="16" height="2" fill="#9598a1"/>
<rect x="1553" y="870" width="2" height="104" fill="#ef5350"/>
<rect x="1546" y="908" width="16" height="60" fill="#ef5350"/>
<rect x="1574" y="879" width="2" height="168" fill="#26a69a"/>
<rect x="1568" y="944" width="14" height="22" fill="#26a69a" stroke="#9598a1" stroke-width="2"/>
<rect x="1595" y="920" width="2" height="25" fill="#26a69a"/>
<rect x="1589" y="936" width="14" height="7" fill="#26a69a" stroke="#9598a1" stroke-width="2"/>
<rect x="1615" y="888" width="2" height="49" fill="#26a69a"/>
<rect x="1609" y="910" width="14" height="25" fill="#26a69a" stroke="#9598a1" stroke-width="2"/>
<rect x="1636" y="907" width="2" height="43" fill="#ef5350"/>
<rect x="1629" y="909" width="16" height="39" fill="#ef5350"/>
<rect x="1657" y="929" width="2" height="54" fill="#ef5350"/>
<rect x="1650" y="947" width="16" height="15" fill="#ef5350"/>
<rect x="1677" y="909" width="2" height="57" fill="#26a69a"/>
<rect x="1671" y="931" width="14" height="30" fill="#26a69a" stroke="#9598a1" stroke-width="2"/>
<rect x="1698" y="900" width="2" height="38" fill="#26a69a"/>
<rect x="1692" y="919" width="14" height="11" fill="#26a69a" stroke="#9598a1" stroke-width="2"/>
<rect x="1719" y="866" width="2" height="61" fill="#26a69a"/>
<rect x="1713" y="882" width="14" height="36" fill="#26a69a" stroke="#9598a1" stroke-width="2"/>
<rect x="1740" y="872" width="2" height="108" fill="#ef5350"/>
<rect x="1733" y="881" width="16" height="78" fill="#ef5350"/>
<rect x="1760" y="948" width="2" height="20" fill="#ef5350"/>
<rect x="1753" y="957" width="16" height="2" fill="#ef5350"/>
<rect x="1781" y="933" width="2" height="29" fill="#26a69a"/>
<rect x="1775" y="948" width="14" height="11" fill="#26a69a" stroke="#9598a1" stroke-width="2"/>
<rect x="1802" y="937" width="2" height="60" fill="#ef5350"/>
<rect x="1795" y="946" width="16" height="26" fill="#ef5350"/>
<rect x="1822" y="960" width="2" height="32" fill="#ef5350"/>
<rect x="1815" y="971" width="16" height="13" fill="#ef5350"/>
<rect x="1843" y="896" width="2" height="93" fill="#26a69a"/>
<rect x="1837" y="918" width="14" height="65" fill="#26a69a" stroke="#9598a1" stroke-width="2"/>
<rect x="1864" y="594" width="2" height="336" fill="#26a69a"/>
<rect x="1858" y="673" width="14" height="244" fill="#26a69a" stroke="#9598a1" stroke-width="2"/>
<rect x="1885" y="489" width="2" height="184" fill="#26a69a"/>
<rect x="1879" y="544" width="14" height="128" fill="#26a69a" stroke="#9598a1" stroke-width="2"/>
<rect x="1905" y="335" width="2" height="254" fill="#26a69a"/>
<rect x="1899" y="347" width="14" height="196" fill="#26a69a" stroke="#9598a1" stroke-width="2"/>
<rect x="1926" y="246" width="2" height="122" fill="#26a69a"/>
<rect x="1920" y="294" width="14" height="52" fill="#26a69a" stroke="#9598a1" stroke-width="2"/>
<rect x="1947" y="292" width="2" height="133" fill="#ef5350"/>
<rect x="1940" y="293" width="16" height="26" fill="#ef5350"/>
<rect x="1967" y="273" width="2" height="138" fill="#ef5350"/>
<rect x="1960" y="318" width="16" height="45" fill="#ef5350"/>
<rect x="1988" y="335" width="2" height="53" fill="#ef5350"/>
<rect x="1981" y="362" width="16" height="23" fill="#ef5350"/>
<rect x="2009" y="308" width="2" height="96" fill="#26a69a"/>
<rect x="2003" y="328" width="14" height="56" fill="#26a69a" stroke="#9598a1" stroke-width="2"/>
<rect x="2030" y="292" width="2" height="71" fill="#26a69a"/>
<rect x="2024" y="310" width="14" height="17" fill="#26a69a" stroke="#9598a1" stroke-width="2"/>
<rect x="2050" y="180" width="2" height="159" fill="#26a69a"/>
<rect x="2044" y="240" width="14" height="69" fill="#26a69a" stroke="#9598a1" stroke-width="2"/>
<rect x="2071" y="184" width="2" height="62" fill="#26a69a"/>
<rect x="2065" y="231" width="14" height="8" fill="#26a69a" stroke="#9598a1" stroke-width="2"/>
<rect x="2092" y="204" width="2" height="112" fill="#ef5350"/>
<rect x="2085" y="230" width="16" height="67" fill="#ef5350"/>
<rect x="2112" y="264" width="2" height="190" fill="#ef5350"/>
<rect x="2105" y="296" width="16" height="33" fill="#ef5350"/>
<rect x="2133" y="256" width="2" height="84" fill="#26a69a"/>
<rect x="2127" y="274" width="14" height="54" fill="#26a69a" stroke="#9598a1" stroke-width="2"/>
<rect x="2154" y="267" width="2" height="48" fill="#ef5350"/>
<rect x="2147" y="273" width="16" height="25" fill="#ef5350"/>
<rect x="2175" y="233" width="2" height="181" fill="#26a69a"/>
<rect x="2169" y="242" width="14" height="55" fill="#26a69a" stroke="#9598a1" stroke-width="2"/>
<rect x="2195" y="237" width="2" height="149" fill="#ef5350"/>
<rect x="2188" y="241" width="16" height="135" fill="#ef5350"/>
<rect x="2216" y="314" width="2" height="111" fill="#26a69a"/>
<rect x="2210" y="347" width="14" height="28" fill="#26a69a" stroke="#9598a1" stroke-width="2"/>
<rect x="2237" y="295" width="2" height="64" fill="#26a69a"/>
<rect x="2231" y="321" width="14" height="25" fill="#26a69a" stroke="#9598a1" stroke-width="2"/>
<rect x="2257" y="309" width="2" height="82" fill="#ef5350"/>
<rect x="2250" y="320" width="16" height="56" fill="#ef5350"/>
<rect x="2278" y="357" width="2" height="76" fill="#ef5350"/>
<rect x="2271" y="375" width="16" height="46" fill="#ef5350"/>
<rect x="2299" y="354" width="2" height="139" fill="#26a69a"/>
<rect x="2293" y="380" width="14" height="40" fill="#26a69a" stroke="#9598a1" stroke-width="2"/>
<rect x="2320" y="366" width="2" height="30" fill="#ef5350"/>
<rect x="2313" y="379" width="16" height="9" fill="#ef5350"/>
<rect x="2340" y="344" width="2" height="47" fill="#26a69a"/>
<rect x="2334" y="354" width="14" height="33" fill="#26a69a" stroke="#9598a1" stroke-width="2"/>
<rect x="2361" y="333" width="2" height="45" fill="#ef5350"/>
<rect x="2354" y="353" width="16" height="19" fill="#ef5350"/>
<rect x="2382" y="312" width="2" height="75" fill="#26a69a"/>
<rect x="2376" y="333" width="14" height="39" fill="#26a69a" stroke="#9598a1" stroke-width="2"/>
<rect x="2402" y="284" width="2" height="61" fill="#26a69a"/>
<rect x="2396" y="323" width="14" height="9" fill="#26a69a" stroke="#9598a1" stroke-width="2"/>
<rect x="2423" y="313" width="2" height="38" fill="#ef5350"/>
<rect x="2416" y="322" width="16" height="16" fill="#ef5350"/>
<rect x="2444" y="334" width="2" height="53" fill="#ef5350"/>
<rect x="2437" y="337" width="16" height="31" fill="#ef5350"/>
<rect x="2465" y="345" width="2" height="46" fill="#26a69a"/>
<rect x="2459" y="351" width="14" height="16" fill="#26a69a" stroke="#9598a1" stroke-width="2"/>
<rect x="2485" y="338" width="2" height="48" fill="#ef5350"/>
<rect x="2478" y="351" width="16" height="20" fill="#ef5350"/>
<rect x="2506" y="338" width="2" height="85" fill="#ef5350"/>
<rect x="2499" y="370" width="16" height="31" fill="#ef5350"/>
<rect x="2527" y="357" width="2" height="54" fill="#26a69a"/>
<rect x="2521" y="363" width="14" height="37" fill="#26a69a" stroke="#9598a1" stroke-width="2"/>
<rect x="2547" y="340" width="2" height="33" fill="#26a69a"/>
<rect x="2541" y="351" width="14" height="11" fill="#26a69a" stroke="#9598a1" stroke-width="2"/>
<rect x="2568" y="236" width="2" height="115" fill="#26a69a"/>
<rect x="2562" y="257" width="14" height="93" fill="#26a69a" stroke="#9598a1" stroke-width="2"/>
<rect x="2589" y="150" width="2" height="110" fill="#26a69a"/>
<rect x="2583" y="175" width="14" height="81" fill="#26a69a" stroke="#9598a1" stroke-width="2"/>
<rect x="2610" y="151" width="2" height="87" fill="#ef5350"/>
<rect x="2603" y="174" width="16" height="28" fill="#ef5350"/>
<rect x="2630" y="189" width="2" height="84" fill="#ef5350"/>
<rect x="2623" y="201" width="16" height="40" fill="#ef5350"/>
<rect x="2651" y="182" width="2" height="65" fill="#26a69a"/>
<rect x="2645" y="208" width="14" height="33" fill="#26a69a" stroke="#9598a1" stroke-width="2"/>
<rect x="2672" y="186" width="2" height="48" fill="#ef5350"/>
<rect x="2665" y="207" width="16" height="15" fill="#ef5350"/>
<rect x="2692" y="215" width="2" height="49" fill="#ef5350"/>
<rect x="2685" y="221" width="16" height="9" fill="#ef5350"/>
<rect x="2713" y="222" width="2" height="46" fill="#ef5350"/>
<rect x="2706" y="229" width="16" height="37" fill="#ef5350"/>
<rect x="2734" y="243" width="2" height="34" fill="#26a69a"/>
<rect x="2728" y="251" width="14" height="14" fill="#26a69a" stroke="#9598a1" stroke-width="2"/>
<rect x="2755" y="208" width="2" height="45" fill="#26a69a"/>
<rect x="2749" y="230" width="14" height="21" fill="#26a69a" stroke="#9598a1" stroke-width="2"/>
<rect x="2775" y="214" width="2" height="26" fill="#ef5350"/>
<rect x="2768" y="229" width="16" height="9" fill="#ef5350"/>
<rect x="2796" y="233" width="2" height="44" fill="#ef5350"/>
<rect x="2789" y="237" width="16" height="16" fill="#ef5350"/>
<rect x="2817" y="219" width="2" height="41" fill="#26a69a"/>
<rect x="2811" y="238" width="14" height="14" fill="#26a69a" stroke="#9598a1" stroke-width="2"/>
<rect x="2837" y="226" width="2" height="373" fill="#ef5350"/>
<rect x="2830" y="237" width="16" height="69" fill="#ef5350"/>
<rect x="2858" y="286" width="2" height="79" fill="#ef5350"/>
<rect x="2851" y="305" width="16" height="24" fill="#ef5350"/>
<rect x="2879" y="282" width="2" height="58" fill="#26a69a"/>
<rect x="2873" y="287" width="14" height="41" fill="#26a69a" stroke="#9598a1" stroke-width="2"/>
<rect x="2900" y="279" width="2" height="52" fill="#ef5350"/>
<rect x="2893" y="286" width="16" height="20" fill="#ef5350"/>
<rect x="2920" y="304" width="2" height="85" fill="#ef5350"/>
<rect x="2913" y="305" width="16" height="29" fill="#ef5350"/>
<rect x="2941" y="296" width="2" height="76" fill="#ef5350"/>
<rect x="2934" y="333" width="16" height="28" fill="#ef5350"/>
<rect x="2962" y="344" width="2" height="98" fill="#ef5350"/>
<rect x="2955" y="360" width="16" height="34" fill="#ef5350"/>
<rect x="2982" y="347" width="2" height="51" fill="#26a69a"/>
<rect x="2976" y="373" width="14" height="20" fill="#26a69a" stroke="#9598a1" stroke-width="2"/>
<rect x="3003" y="359" width="2" height="48" fill="#ef5350"/>
<rect x="2996" y="372" width="16" height="22" fill="#ef5350"/>
<rect x="3024" y="367" width="2" height="41" fill="#ef5350"/>
<rect x="3017" y="393" width="16" height="2" fill="#ef5350"/>
<path d="M25 394 H3337" stroke="#ef5350" stroke-width="2" stroke-dasharray="2 4"/>
<path d="M411 1354.8 L415 1345.4 L436 1347.8 L450.9 1354.8 Z" fill="url(#ob)"/>
<path d="M1858.7 1354.8 L1865 1340.4 L1886 1325.3 L1906 1310.5 L1927 1307.7 L1948 1321.4 L1968 1341.1 L1989 1349.4 L2010 1341.8 L2031 1339.4 L2051 1330.8 L2072 1329.8 L2090.6 1354.8 Z" fill="url(#ob)"/>
<polyline points="21,1408.5 42,1406.9 63,1401.5 84,1381.9 104,1365.3 125,1370.3 146,1366.8 166,1386.5 187,1384.9 208,1391.8 229,1399.2 249,1389.9 270,1383.3 291,1370.7 311,1376 332,1387.5 353,1386.5 374,1388.5 394,1394 415,1345.4 436,1347.8 456,1357.2 477,1377.2 498,1376.5 519,1395.7 539,1398.6 560,1402.1 581,1403.8 601,1404.8 622,1402.4 643,1396.9 664,1398.6 684,1406 705,1396.7 726,1388.5 746,1368.1 767,1367.7 788,1378.7 809,1381.6 829,1379.8 850,1372.1 871,1387.2 891,1385.9 912,1385.6 933,1403.3 954,1396.9 974,1404.5 995,1409.8 1016,1414.6 1036,1407.4 1057,1398.7 1078,1402.5 1099,1381.4 1119,1386.7 1140,1384.3 1161,1381.2 1181,1382.1 1202,1393.5 1223,1416.5 1244,1410 1264,1413.4 1285,1407.4 1306,1414.7 1326,1411.2 1347,1405.3 1368,1409.4 1389,1413.3 1409,1416.1 1430,1418.6 1451,1419.6 1471,1433.7 1492,1398.9 1513,1381 1534,1380.1 1554,1400.8 1575,1393.7 1596,1391.3 1616,1383.5 1637,1396.8 1658,1400.9 1678,1391.4 1699,1387.7 1720,1376.7 1741,1401.7 1761,1401.7 1782,1398.5 1803,1405.2 1823,1408.4 1844,1388.8 1865,1340.4 1886,1325.3 1906,1310.5 1927,1307.7 1948,1321.4 1968,1341.1 1989,1349.4 2010,1341.8 2031,1339.4 2051,1330.8 2072,1329.8 2093,1358 2113,1368.3 2134,1359.2 2155,1367.1 2176,1357.6 2196,1390.9 2217,1386.3 2238,1382.2 2258,1393 2279,1400.1 2300,1393.7 2321,1395.1 2341,1389.2 2362,1393 2383,1385.6 2403,1383.7 2424,1387.6 2445,1394.7 2466,1391 2486,1395.9 2507,1402.4 2528,1393.8 2548,1391 2569,1370.3 2590,1355 2611,1365.3 2631,1377.7 2652,1371.1 2673,1375.7 2693,1378.4 2714,1388.9 2735,1385.3 2756,1380.4 2776,1383.1 2797,1388 2818,1383.9 2838,1403.3 2859,1408.3 2880,1397.6 2901,1402.3 2921,1408.6 2942,1414 2963,1419.8 2983,1414.4 3004,1418.3 3025,1418.6" fill="none" stroke="#7e57c2" stroke-width="2.5" stroke-linejoin="round"/>
<polyline points="21,1408.3 42,1408.6 63,1408 84,1406.1 104,1402.7 125,1399.3 146,1395.6 166,1394 187,1392.5 208,1391.9 229,1391.9 249,1390.9 270,1389.4 291,1386.3 311,1383.9 332,1382.5 353,1381.5 374,1381.9 394,1384 415,1382.2 436,1380.9 456,1378.8 477,1378.2 498,1377.1 519,1376.9 539,1377.5 560,1378.8 581,1381.2 601,1383.3 622,1384.3 643,1385.1 664,1385.8 684,1386.6 705,1390.3 726,1393.2 746,1394 767,1393.3 788,1393.5 809,1392.5 829,1391.1 850,1389 871,1387.8 891,1386.4 912,1385.3 933,1385.7 954,1385.6 974,1385.5 995,1386.4 1016,1388.3 1036,1391.1 1057,1393.3 1078,1395 1099,1395 1119,1395.5 1140,1396.4 1161,1395.9 1181,1395.7 1202,1396.2 1223,1397.2 1244,1398.1 1264,1398.7 1285,1398.6 1306,1398.6 1326,1398.8 1347,1399.3 1368,1399.8 1389,1402.1 1409,1404.2 1430,1406.6 1451,1409.4 1471,1413.1 1492,1413.4 1513,1410.9 1534,1408.8 1554,1407.9 1575,1406.9 1596,1405.2 1616,1403.2 1637,1402.6 1658,1402 1678,1400.5 1699,1398.4 1720,1395.4 1741,1394.2 1761,1391.9 1782,1391.8 1803,1393.6 1823,1395.6 1844,1394.7 1865,1390.9 1886,1386.2 1906,1381 1927,1374.6 1948,1368.9 1968,1365.4 1989,1362.6 2010,1360.1 2031,1355.7 2051,1350.6 2072,1345.7 2093,1342.3 2113,1339.5 2134,1337.4 2155,1339.3 2176,1341.6 2196,1347.3 2217,1352.9 2238,1357.3 2258,1361 2279,1364.6 2300,1368.3 2321,1372.3 2341,1376.5 2362,1381 2383,1382.9 2403,1384 2424,1386.1 2445,1388 2466,1390.4 2486,1390.8 2507,1391.9 2528,1392.8 2548,1392.6 2569,1390.5 2590,1387.7 2611,1385.6 2631,1384.8 2652,1383.2 2673,1382.5 2693,1382.1 2714,1382.2 2735,1381.6 2756,1380.8 2776,1379.9 2797,1378.9 2818,1378.2 2838,1379 2859,1381.7 2880,1384.8 2901,1387.4 2921,1389.6 2942,1392.7 2963,1395.8 2983,1398.4 3004,1400.5 3025,1402.9" fill="none" stroke="#ffeb3b" stroke-width="2.5" stroke-linejoin="round"/>
</g>
<path d="M25 1456 H3603" stroke="#3c3c3c" stroke-width="2"/>
<path d="M3469 67 V1525" stroke="#3c3c3c" stroke-width="2.2"/>
<text x="3066.66" y="90.6" font-size="30" fill="#ff9800" stroke="#ff9800" stroke-width="0.6" textLength="72.70" lengthAdjust="spacingAndGlyphs">1.272</text>
<text x="3151.01" y="90.6" font-size="30" fill="#ff9800" stroke="#ff9800" stroke-width="0.6" textLength="110.16" lengthAdjust="spacingAndGlyphs">(4.3129)</text>
<text x="3067.30" y="159.7" font-size="30" fill="#787b86" stroke="#787b86" stroke-width="0.6" textLength="10.84" lengthAdjust="spacingAndGlyphs">1</text>
<text x="3093.22" y="159.7" font-size="30" fill="#787b86" stroke="#787b86" stroke-width="0.6" textLength="109.45" lengthAdjust="spacingAndGlyphs">(3.6584)</text>
<text x="3065.62" y="223.5" font-size="30" fill="#00bcd4" stroke="#00bcd4" stroke-width="0.6" textLength="73.75" lengthAdjust="spacingAndGlyphs">0.786</text>
<text x="3151.01" y="223.5" font-size="30" fill="#00bcd4" stroke="#00bcd4" stroke-width="0.6" textLength="110.16" lengthAdjust="spacingAndGlyphs">(3.1434)</text>
<text x="3065.62" y="281.3" font-size="30" fill="#089981" stroke="#089981" stroke-width="0.6" textLength="73.75" lengthAdjust="spacingAndGlyphs">0.618</text>
<text x="3151.01" y="281.3" font-size="30" fill="#089981" stroke="#089981" stroke-width="0.6" textLength="110.16" lengthAdjust="spacingAndGlyphs">(2.7392)</text>
<text x="3065.59" y="327.2" font-size="30" fill="#4caf50" stroke="#4caf50" stroke-width="0.6" textLength="42.10" lengthAdjust="spacingAndGlyphs">0.5</text>
<text x="3119.52" y="327.2" font-size="30" fill="#4caf50" stroke="#4caf50" stroke-width="0.6" textLength="109.96" lengthAdjust="spacingAndGlyphs">(2.4552)</text>
<text x="3065.62" y="378.8" font-size="30" fill="#ff9800" stroke="#ff9800" stroke-width="0.6" textLength="73.75" lengthAdjust="spacingAndGlyphs">0.382</text>
<text x="3151.01" y="378.8" font-size="30" fill="#ff9800" stroke="#ff9800" stroke-width="0.6" textLength="110.16" lengthAdjust="spacingAndGlyphs">(2.1713)</text>
<text x="3065.62" y="453" font-size="30" fill="#f23645" stroke="#f23645" stroke-width="0.6" textLength="73.75" lengthAdjust="spacingAndGlyphs">0.236</text>
<text x="3151.01" y="453" font-size="30" fill="#f23645" stroke="#f23645" stroke-width="0.6" textLength="110.16" lengthAdjust="spacingAndGlyphs">(1.8200)</text>
<text x="3065.66" y="610.1" font-size="30" fill="#787b86" stroke="#787b86" stroke-width="0.6" textLength="15.68" lengthAdjust="spacingAndGlyphs">0</text>
<text x="3093.22" y="610.1" font-size="30" fill="#787b86" stroke="#787b86" stroke-width="0.6" textLength="109.45" lengthAdjust="spacingAndGlyphs">(1.2521)</text>
<text x="25.85" y="48.3" font-size="29" fill="#131722" stroke="#131722" stroke-width="0.5" textLength="193.69" lengthAdjust="spacingAndGlyphs">Jake_Simmons</text>
<text x="229.27" y="48.3" font-size="29" fill="#131722" stroke="#131722" stroke-width="0.5" textLength="104.81" lengthAdjust="spacingAndGlyphs">created</text>
<text x="344.67" y="48.3" font-size="29" fill="#131722" stroke="#131722" stroke-width="0.5" textLength="57.54" lengthAdjust="spacingAndGlyphs">with</text>
<text x="411.75" y="48.3" font-size="29" fill="#131722" stroke="#131722" stroke-width="0.5" textLength="236.53" lengthAdjust="spacingAndGlyphs">TradingView.com,</text>
<text x="658.15" y="48.3" font-size="29" fill="#131722" stroke="#131722" stroke-width="0.5" textLength="49.08" lengthAdjust="spacingAndGlyphs">Dec</text>
<text x="717.69" y="48.3" font-size="29" fill="#131722" stroke="#131722" stroke-width="0.5" textLength="41.59" lengthAdjust="spacingAndGlyphs">12,</text>
<text x="768.49" y="48.3" font-size="29" fill="#131722" stroke="#131722" stroke-width="0.5" textLength="62.15" lengthAdjust="spacingAndGlyphs">2025</text>
<text x="840.42" y="48.3" font-size="29" fill="#131722" stroke="#131722" stroke-width="0.5" textLength="75.00" lengthAdjust="spacingAndGlyphs">08:10</text>
<text x="924.34" y="48.3" font-size="29" fill="#131722" stroke="#131722" stroke-width="0.5" textLength="81.69" lengthAdjust="spacingAndGlyphs">UTC-5</text>
<text x="45.90" y="115.4" font-size="29" fill="#4a4a4a" stroke="#4a4a4a" stroke-width="0.6" textLength="49.21" lengthAdjust="spacingAndGlyphs">XRP</text>
<text x="108.20" y="115.4" font-size="29" fill="#4a4a4a" stroke="#4a4a4a" stroke-width="0.6" textLength="5.10" lengthAdjust="spacingAndGlyphs">/</text>
<text x="130.50" y="115.4" font-size="29" fill="#4a4a4a" stroke="#4a4a4a" stroke-width="0.6" textLength="119.54" lengthAdjust="spacingAndGlyphs">TetherUS</text>
<text x="260.55" y="115.4" font-size="29" fill="#4a4a4a" stroke="#4a4a4a" stroke-width="0.6" textLength="8.21" lengthAdjust="spacingAndGlyphs">·</text>
<text x="280.51" y="115.4" font-size="29" fill="#4a4a4a" stroke="#4a4a4a" stroke-width="0.6" textLength="38.93" lengthAdjust="spacingAndGlyphs">1W</text>
<text x="330.85" y="115.4" font-size="29" fill="#4a4a4a" stroke="#4a4a4a" stroke-width="0.6" textLength="8.21" lengthAdjust="spacingAndGlyphs">·</text>
<text x="350.59" y="115.4" font-size="29" fill="#4a4a4a" stroke="#4a4a4a" stroke-width="0.6" textLength="105.45" lengthAdjust="spacingAndGlyphs">Binance</text>
<text x="474.24" y="115.4" font-size="29" fill="#4a4a4a" stroke="#4a4a4a" stroke-width="0.6" textLength="19.33" lengthAdjust="spacingAndGlyphs">O</text>
<text x="495.20" y="115.4" font-size="29" fill="#ef5350" stroke="#ef5350" stroke-width="0.6" textLength="89.14" lengthAdjust="spacingAndGlyphs">2.0442</text>
<text x="603.04" y="115.4" font-size="29" fill="#4a4a4a" stroke="#4a4a4a" stroke-width="0.6" textLength="19.46" lengthAdjust="spacingAndGlyphs">H</text>
<text x="623.19" y="115.4" font-size="29" fill="#ef5350" stroke="#ef5350" stroke-width="0.6" textLength="89.34" lengthAdjust="spacingAndGlyphs">2.1780</text>
<text x="730.97" y="115.4" font-size="29" fill="#4a4a4a" stroke="#4a4a4a" stroke-width="0.6" textLength="14.75" lengthAdjust="spacingAndGlyphs">L</text>
<text x="747.30" y="115.4" font-size="29" fill="#ef5350" stroke="#ef5350" stroke-width="0.6" textLength="88.52" lengthAdjust="spacingAndGlyphs">1.9767</text>
<text x="854.66" y="115.4" font-size="29" fill="#4a4a4a" stroke="#4a4a4a" stroke-width="0.6" textLength="17.53" lengthAdjust="spacingAndGlyphs">C</text>
<text x="873.50" y="115.4" font-size="29" fill="#ef5350" stroke="#ef5350" stroke-width="0.6" textLength="89.04" lengthAdjust="spacingAndGlyphs">2.0422</text>
<text x="982.21" y="115.4" font-size="29" fill="#ef5350" stroke="#ef5350" stroke-width="0.6" textLength="104.61" lengthAdjust="spacingAndGlyphs">−0.0020</text>
<text x="1097.75" y="115.4" font-size="29" fill="#ef5350" stroke="#ef5350" stroke-width="0.6" textLength="112.83" lengthAdjust="spacingAndGlyphs">(−0.10%)</text>
<text x="45.90" y="157.3" font-size="29" fill="#4a4a4a" stroke="#4a4a4a" stroke-width="0.6" textLength="39.93" lengthAdjust="spacingAndGlyphs">Vol</text>
<text x="95.55" y="157.3" font-size="29" fill="#4a4a4a" stroke="#4a4a4a" stroke-width="0.6" textLength="8.21" lengthAdjust="spacingAndGlyphs">·</text>
<text x="115.70" y="157.3" font-size="29" fill="#4a4a4a" stroke="#4a4a4a" stroke-width="0.6" textLength="49.72" lengthAdjust="spacingAndGlyphs">XRP</text>
<text x="184.30" y="157.3" font-size="29" fill="#ef5350" stroke="#ef5350" stroke-width="0.6" textLength="90.55" lengthAdjust="spacingAndGlyphs">477.59</text>
<text x="279.01" y="157.3" font-size="29" fill="#ef5350" stroke="#ef5350" stroke-width="0.6" textLength="24.04" lengthAdjust="spacingAndGlyphs">M</text>
<text x="45.00" y="199.3" font-size="29" fill="#4a4a4a" stroke="#4a4a4a" stroke-width="0.6" textLength="53.54" lengthAdjust="spacingAndGlyphs">EMA</text>
<text x="109.09" y="199.3" font-size="29" fill="#4a4a4a" stroke="#4a4a4a" stroke-width="0.6" textLength="205.76" lengthAdjust="spacingAndGlyphs">20/50/100/200</text>
<text x="333.18" y="199.3" font-size="29" fill="#ff0000" stroke="#ff0000" stroke-width="0.6" textLength="90.47" lengthAdjust="spacingAndGlyphs">2.4387</text>
<text x="441.80" y="199.3" font-size="29" fill="#ff8000" stroke="#ff8000" stroke-width="0.6" textLength="89.04" lengthAdjust="spacingAndGlyphs">2.3008</text>
<text x="551.73" y="199.3" font-size="29" fill="#00ffff" stroke="#00ffff" stroke-width="0.6" textLength="87.17" lengthAdjust="spacingAndGlyphs">1.8673</text>
<text x="659.41" y="199.3" font-size="29" fill="#0000ff" stroke="#0000ff" stroke-width="0.6" textLength="88.21" lengthAdjust="spacingAndGlyphs">1.3665</text>
<text x="45.15" y="1348.1" font-size="29" fill="#4a4a4a" stroke="#4a4a4a" stroke-width="0.6" textLength="39.84" lengthAdjust="spacingAndGlyphs">RSI</text>
<text x="96.39" y="1348.1" font-size="29" fill="#4a4a4a" stroke="#4a4a4a" stroke-width="0.6" textLength="50.28" lengthAdjust="spacingAndGlyphs">(14,</text>
<text x="157.07" y="1348.1" font-size="29" fill="#4a4a4a" stroke="#4a4a4a" stroke-width="0.6" textLength="79.84" lengthAdjust="spacingAndGlyphs">close)</text>
<text x="255.60" y="1348.1" font-size="29" fill="#7e57c2" stroke="#7e57c2" stroke-width="0.6" textLength="73.85" lengthAdjust="spacingAndGlyphs">40.30</text>
<text x="348.10" y="1348.1" font-size="29" fill="#ffeb3b" stroke="#ffeb3b" stroke-width="0.6" textLength="72.63" lengthAdjust="spacingAndGlyphs">47.63</text>
<text x="441.83" y="1348.1" font-size="29" fill="#4a4a4a" stroke="#4a4a4a" stroke-width="0.6" textLength="24.66" lengthAdjust="spacingAndGlyphs">∅</text>
<text x="488.32" y="1348.1" font-size="29" fill="#4a4a4a" stroke="#4a4a4a" stroke-width="0.6" textLength="24.77" lengthAdjust="spacingAndGlyphs">∅</text>
<text x="3491.80" y="243.1" font-size="26" fill="#4a4a4a" stroke="#4a4a4a" stroke-width="0.6" textLength="79.36" lengthAdjust="spacingAndGlyphs">3.0000</text>
<text x="3490.79" y="336.8" font-size="26" fill="#4a4a4a" stroke="#4a4a4a" stroke-width="0.6" textLength="80.38" lengthAdjust="spacingAndGlyphs">2.4000</text>
<text x="3490.79" y="507.1" font-size="26" fill="#4a4a4a" stroke="#4a4a4a" stroke-width="0.6" textLength="80.38" lengthAdjust="spacingAndGlyphs">1.6000</text>
<text x="3490.79" y="594.3" font-size="26" fill="#4a4a4a" stroke="#4a4a4a" stroke-width="0.6" textLength="80.38" lengthAdjust="spacingAndGlyphs">1.3000</text>
<text x="3490.79" y="664.4" font-size="26" fill="#4a4a4a" stroke="#4a4a4a" stroke-width="0.6" textLength="80.38" lengthAdjust="spacingAndGlyphs">1.1000</text>
<text x="3490.79" y="748.7" font-size="26" fill="#4a4a4a" stroke="#4a4a4a" stroke-width="0.6" textLength="80.38" lengthAdjust="spacingAndGlyphs">0.9000</text>
<text x="3490.79" y="825.3" font-size="26" fill="#4a4a4a" stroke="#4a4a4a" stroke-width="0.6" textLength="80.38" lengthAdjust="spacingAndGlyphs">0.7500</text>
<text x="3490.79" y="919" font-size="26" fill="#4a4a4a" stroke="#4a4a4a" stroke-width="0.6" textLength="80.38" lengthAdjust="spacingAndGlyphs">0.6000</text>
<text x="3490.79" y="995.6" font-size="26" fill="#4a4a4a" stroke="#4a4a4a" stroke-width="0.6" textLength="80.38" lengthAdjust="spacingAndGlyphs">0.5000</text>
<text x="3490.79" y="1068.8" font-size="26" fill="#4a4a4a" stroke="#4a4a4a" stroke-width="0.6" textLength="80.38" lengthAdjust="spacingAndGlyphs">0.4200</text>
<text x="3490.79" y="1157.6" font-size="26" fill="#4a4a4a" stroke="#4a4a4a" stroke-width="0.6" textLength="80.38" lengthAdjust="spacingAndGlyphs">0.3400</text>
<text x="3490.79" y="1239.1" font-size="26" fill="#4a4a4a" stroke="#4a4a4a" stroke-width="0.6" textLength="80.38" lengthAdjust="spacingAndGlyphs">0.2800</text>
<text x="3490.78" y="1343.7" font-size="26" fill="#4a4a4a" stroke="#4a4a4a" stroke-width="0.6" textLength="66.39" lengthAdjust="spacingAndGlyphs">80.00</text>
<text x="3491.80" y="1429.6" font-size="26" fill="#4a4a4a" stroke="#4a4a4a" stroke-width="0.6" textLength="65.36" lengthAdjust="spacingAndGlyphs">40.00</text>
<rect x="3479" y="77" width="112" height="63.5" rx="9" fill="#fff" stroke="#ebecee" stroke-width="1.5"/>
<text x="3500.84" y="118" font-size="29" fill="#131722" stroke="#131722" stroke-width="0.4" textLength="69.41" lengthAdjust="spacingAndGlyphs">USDT</text>
<path d="M3341 374.2 H3469 V413.7 H3341 a4 4 0 0 1 -4 -4 V378.2 a4 4 0 0 1 4 -4 Z" fill="#ef5350"/>
<path d="M3469 374.2 H3579 a4 4 0 0 1 4 4 V442 a4 4 0 0 1 -4 4 H3469 Z" fill="#ef5350"/>
<text x="3348.30" y="403.4" font-size="26" fill="#fff" stroke="#fff" stroke-width="0.6" textLength="108.70" lengthAdjust="spacingAndGlyphs">XRPUSDT</text>
<text x="3490.80" y="403.6" font-size="26" fill="#fff" stroke="#fff" stroke-width="0.6" textLength="79.36" lengthAdjust="spacingAndGlyphs">2.0422</text>
<text x="3490.79" y="435.3" font-size="26" fill="#facbca" stroke="#facbca" stroke-width="0.6" textLength="29.18" lengthAdjust="spacingAndGlyphs">2d</text>
<text x="3527.24" y="435.3" font-size="26" fill="#facbca" stroke="#facbca" stroke-width="0.6" textLength="44.01" lengthAdjust="spacingAndGlyphs">11h</text>
<path d="M3469 370 V450" stroke="#3c3c3c" stroke-width="2.2"/>
<g clip-path="url(#cpt)">
<text x="18.56" y="1499.5" font-size="26" fill="#4a4a4a" stroke="#4a4a4a" stroke-width="0.6" textLength="44.55" lengthAdjust="spacingAndGlyphs">Mar</text>
<text x="182.72" y="1499.5" font-size="26" fill="#4a4a4a" stroke="#4a4a4a" stroke-width="0.6" textLength="48.58" lengthAdjust="spacingAndGlyphs">May</text>
<text x="377.50" y="1499.5" font-size="26" fill="#4a4a4a" stroke="#4a4a4a" stroke-width="0.6" textLength="33.79" lengthAdjust="spacingAndGlyphs">Jul</text>
<text x="559.06" y="1499.5" font-size="26" fill="#4a4a4a" stroke="#4a4a4a" stroke-width="0.6" textLength="43.37" lengthAdjust="spacingAndGlyphs">Sep</text>
<text x="743.61" y="1499.5" font-size="26" fill="#4a4a4a" stroke="#4a4a4a" stroke-width="0.6" textLength="44.84" lengthAdjust="spacingAndGlyphs">Nov</text>
<text x="902.30" y="1499.5" font-size="26" fill="#4a4a4a" stroke="#4a4a4a" stroke-width="0.6" textLength="60.83" lengthAdjust="spacingAndGlyphs" font-weight="bold">2024</text>
<text x="1095.56" y="1499.5" font-size="26" fill="#4a4a4a" stroke="#4a4a4a" stroke-width="0.6" textLength="44.55" lengthAdjust="spacingAndGlyphs">Mar</text>
<text x="1280.72" y="1499.5" font-size="26" fill="#4a4a4a" stroke="#4a4a4a" stroke-width="0.6" textLength="48.58" lengthAdjust="spacingAndGlyphs">May</text>
<text x="1454.50" y="1499.5" font-size="26" fill="#4a4a4a" stroke="#4a4a4a" stroke-width="0.6" textLength="33.79" lengthAdjust="spacingAndGlyphs">Jul</text>
<text x="1636.06" y="1499.5" font-size="26" fill="#4a4a4a" stroke="#4a4a4a" stroke-width="0.6" textLength="43.37" lengthAdjust="spacingAndGlyphs">Sep</text>
<text x="1820.61" y="1499.5" font-size="26" fill="#4a4a4a" stroke="#4a4a4a" stroke-width="0.6" textLength="44.84" lengthAdjust="spacingAndGlyphs">Nov</text>
<text x="2000.30" y="1499.5" font-size="26" fill="#4a4a4a" stroke="#4a4a4a" stroke-width="0.6" textLength="61.89" lengthAdjust="spacingAndGlyphs" font-weight="bold">2025</text>
<text x="2172.56" y="1499.5" font-size="26" fill="#4a4a4a" stroke="#4a4a4a" stroke-width="0.6" textLength="44.55" lengthAdjust="spacingAndGlyphs">Mar</text>
<text x="2357.72" y="1499.5" font-size="26" fill="#4a4a4a" stroke="#4a4a4a" stroke-width="0.6" textLength="48.58" lengthAdjust="spacingAndGlyphs">May</text>
<text x="2552.50" y="1499.5" font-size="26" fill="#4a4a4a" stroke="#4a4a4a" stroke-width="0.6" textLength="33.79" lengthAdjust="spacingAndGlyphs">Jul</text>
<text x="2713.06" y="1499.5" font-size="26" fill="#4a4a4a" stroke="#4a4a4a" stroke-width="0.6" textLength="43.37" lengthAdjust="spacingAndGlyphs">Sep</text>
<text x="2897.61" y="1499.5" font-size="26" fill="#4a4a4a" stroke="#4a4a4a" stroke-width="0.6" textLength="44.84" lengthAdjust="spacingAndGlyphs">Nov</text>
<text x="3077.30" y="1499.5" font-size="26" fill="#4a4a4a" stroke="#4a4a4a" stroke-width="0.6" textLength="61.89" lengthAdjust="spacingAndGlyphs" font-weight="bold">2026</text>
<text x="3249.56" y="1499.5" font-size="26" fill="#4a4a4a" stroke="#4a4a4a" stroke-width="0.6" textLength="44.55" lengthAdjust="spacingAndGlyphs">Mar</text>
<text x="3434.72" y="1499.5" font-size="26" fill="#4a4a4a" stroke="#4a4a4a" stroke-width="0.6" textLength="48.58" lengthAdjust="spacingAndGlyphs">May</text>
</g>
<g fill="#101010"><path d="M30 1580.4 H60 V1617.6 H45 V1595.3 H30 Z"/><circle cx="72.5" cy="1587.3" r="7.5"/><path d="M88 1580.4 H105 L90 1617.6 H72.5 Z"/></g>
<text x="123.10" y="1617" font-size="53" fill="#101010" stroke="#101010" stroke-width="0.8" textLength="299.75" lengthAdjust="spacingAndGlyphs" font-weight="bold">TradingView</text>
</svg>
</body></html>
